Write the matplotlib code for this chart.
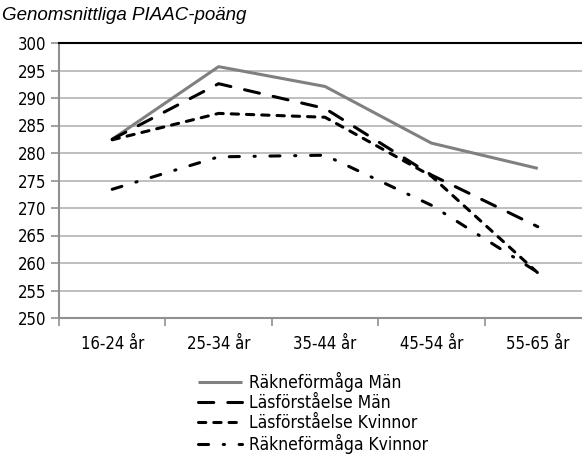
import matplotlib.pyplot as plt
import numpy as np

# data
kategorier = ['16-24 år', '25-34 år', '35-44 år', '45-54 år', '55-65 år']
rakne_man = [282.5, 295.7, 292.1, 281.8, 277.2]
las_man = [282.5, 292.6, 288.1, 276.0, 266.6]
las_kvinnor = [282.4, 287.2, 286.5, 275.8, 258.2]
rakne_kvinnor = [273.4, 279.3, 279.6, 270.5, 258.3]

plt.rcParams['font.family'] = ['DejaVu Sans']
plt.rcParams['font.stretch'] = 'condensed'

fig = plt.figure(figsize=(5.82, 4.54), dpi=100)
ax = fig.add_axes([59 / 582, 136 / 454, 532 / 582, 275 / 454])

x = np.arange(len(kategorier))
lw = 2.2
ax.plot(x, rakne_man, color='#808080', lw=lw, label='Räkneförmåga Män', solid_capstyle='butt')
ax.plot(x, las_man, color='black', lw=lw, dashes=(5.0, 4.6), dash_capstyle='round',
        label='Läsförståelse Män')
ax.plot(x, las_kvinnor, color='black', lw=lw, dashes=(2.4, 2.6), dash_capstyle='round',
        label='Läsförståelse Kvinnor')
ax.plot(x, rakne_kvinnor, color='black', lw=lw, dashes=(3.3, 4.8, 0.4, 4.8), dash_capstyle='round',
        label='Räkneförmåga Kvinnor')

ax.set_xlim(-0.5, 4.5)
ax.set_ylim(250, 300)
ax.set_yticks(range(250, 301, 5))
ax.grid(axis='y', color='#b4b4b4', lw=1.2)
ax.set_axisbelow(True)

ax.set_xticks(x)
ax.set_xticklabels(kategorier)
ax.set_xticks(np.arange(-0.5, 5, 1), minor=True)
ax.tick_params(axis='x', which='major', length=0, pad=12, labelsize=12)
ax.tick_params(axis='x', which='minor', length=6, color='#909090', width=1.2)
ax.tick_params(axis='y', length=6, color='#909090', width=1.2, labelsize=12, pad=3)

for s in ['left', 'bottom']:
    ax.spines[s].set_color('#909090')
    ax.spines[s].set_linewidth(1.5)
ax.spines['right'].set_visible(False)
ax.spines['top'].set_color('black')
ax.spines['top'].set_linewidth(1.5)

fig.text(2 / 582, 1 - 15 / 454, 'Genomsnittliga PIAAC-poäng', fontsize=13.5, style='italic',
         family='Liberation Sans', stretch='normal', va='center', ha='left')

fig.legend(loc='upper left', bbox_to_anchor=(198 / 582, 1 - 372 / 454), frameon=False,
           fontsize=12.5, handlelength=2.55, handletextpad=0.4, labelspacing=0.12,
           borderpad=0, borderaxespad=0)

plt.savefig('out.png', dpi=100)
